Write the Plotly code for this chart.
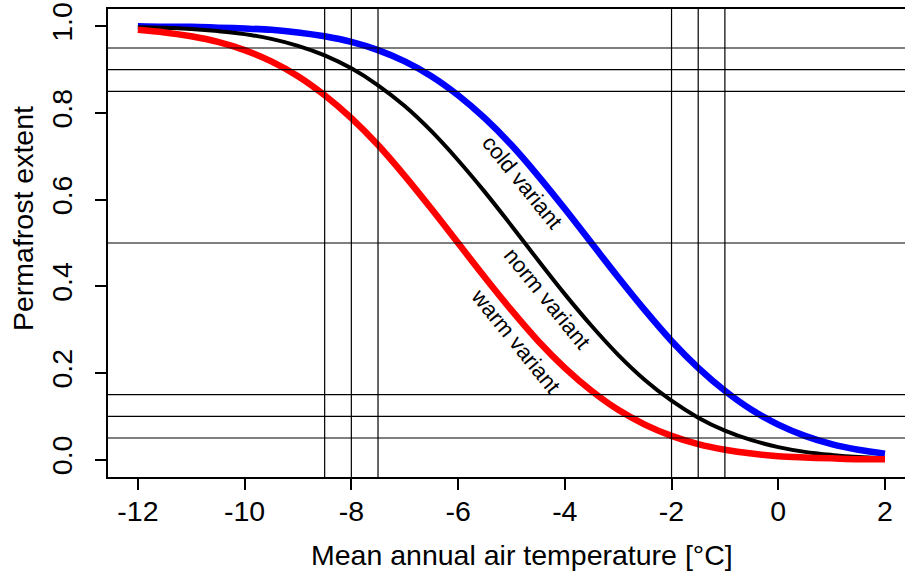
import plotly.graph_objects as go

# ---- data ----
temperature = [-12.0, -11.5, -11.0, -10.5, -10.0, -9.5, -9.0, -8.5, -8.0, -7.5,
               -7.0, -6.5, -6.0, -5.5, -5.0, -4.5, -4.0, -3.5, -3.0, -2.5,
               -2.0, -1.5, -1.0, -0.5, 0.0, 0.5, 1.0, 1.5, 2.0]

cold_variant = [1.000, 0.999, 0.999, 0.997, 0.995, 0.992, 0.986, 0.977, 0.964, 0.945,
                0.919, 0.885, 0.841, 0.788, 0.726, 0.655, 0.579, 0.500, 0.421, 0.345,
                0.274, 0.212, 0.159, 0.115, 0.081, 0.055, 0.036, 0.023, 0.014]

norm_variant = [0.998, 0.997, 0.994, 0.989, 0.982, 0.971, 0.955, 0.933, 0.903, 0.864,
                0.816, 0.758, 0.691, 0.618, 0.540, 0.460, 0.382, 0.309, 0.242, 0.184,
                0.136, 0.097, 0.067, 0.045, 0.029, 0.018, 0.011, 0.006, 0.003]

warm_variant = [0.992, 0.986, 0.977, 0.964, 0.945, 0.919, 0.885, 0.841, 0.788, 0.726,
                0.655, 0.579, 0.500, 0.421, 0.345, 0.274, 0.212, 0.159, 0.115, 0.081,
                0.055, 0.036, 0.023, 0.014, 0.008, 0.005, 0.003, 0.001, 0.001]

x_ticks = [-12, -10, -8, -6, -4, -2, 0, 2]
x_tick_labels = ["-12", "-10", "-8", "-6", "-4", "-2", "0", "2"]
y_ticks = [0.0, 0.2, 0.4, 0.6, 0.8, 1.0]
y_tick_labels = ["0.0", "0.2", "0.4", "0.6", "0.8", "1.0"]

threshold_temps = [-8.5, -8.0, -7.5, -2.0, -1.5, -1.0]
threshold_extents = [0.05, 0.10, 0.15, 0.50, 0.85, 0.90, 0.95]

label_texts = ["cold variant", "norm variant", "warm variant"]
label_x = [-4.79, -4.33, -4.93]
label_y = [0.640, 0.372, 0.274]

x_title = "Mean annual air temperature [°C]"
y_title = "Permafrost extent"

FONT = "Liberation Sans, Arial, Helvetica, sans-serif"

fig = go.Figure()

for vals, col, w in [(cold_variant, "#0000FF", 6.5),
                     (norm_variant, "#000000", 4),
                     (warm_variant, "#FF0000", 6.5)]:
    fig.add_trace(go.Scatter(x=temperature, y=vals, mode="lines",
                             line=dict(color=col, width=w, shape="spline", smoothing=1.0),
                             showlegend=False, hoverinfo="skip"))

for t in threshold_temps:
    fig.add_shape(type="line", xref="x", yref="paper", x0=t, x1=t, y0=0, y1=1,
                  line=dict(color="black", width=1.2), layer="above")
for e in threshold_extents:
    fig.add_shape(type="line", xref="paper", yref="y", x0=0, x1=1, y0=e, y1=e,
                  line=dict(color="black", width=1.2), layer="above")

for txt, lx, ly in zip(label_texts, label_x, label_y):
    fig.add_annotation(x=lx, y=ly, xref="x", yref="y", text=txt, showarrow=False,
                       textangle=51, font=dict(family=FONT, size=22, color="black"),
                       xanchor="center", yanchor="middle")

fig.add_annotation(x=(522 - 108) / 797, y=(477 - 555) / 468, xref="paper", yref="paper",
                   text=x_title, showarrow=False, xanchor="center", yanchor="middle",
                   font=dict(family=FONT, size=28.5, color="black"))
fig.add_annotation(x=(23 - 108) / 797, y=(477 - 219) / 468, xref="paper", yref="paper",
                   text=y_title, showarrow=False, textangle=-90, xanchor="center", yanchor="middle",
                   font=dict(family=FONT, size=28.5, color="black"))

fig.update_layout(
    width=905, height=571,
    margin=dict(l=108, r=0, t=9, b=94, pad=0),
    paper_bgcolor="white", plot_bgcolor="white",
    font=dict(family=FONT, size=28.5, color="black"),
    xaxis=dict(range=[-12.56, 2.375], tickvals=x_ticks, ticktext=x_tick_labels,
               ticks="outside", ticklen=11, tickwidth=1.5, tickcolor="black",
               showline=True, linecolor="black", linewidth=2, mirror=True,
               showgrid=False, zeroline=False, tickfont=dict(size=28.5),
               ticklabelstandoff=-3),
    yaxis=dict(range=[-0.04, 1.04], tickvals=y_ticks, ticktext=y_tick_labels,
               ticks="outside", ticklen=11, tickwidth=1.5, tickcolor="black",
               showline=True, linecolor="black", linewidth=2, mirror=False,
               showgrid=False, zeroline=False, tickangle=-90, tickfont=dict(size=28.5),
               ticklabelstandoff=12),
)

fig.write_html("out.html", config={"displayModeBar": False},
               post_script="document.body.style.margin='0';document.body.style.overflow='hidden';")
